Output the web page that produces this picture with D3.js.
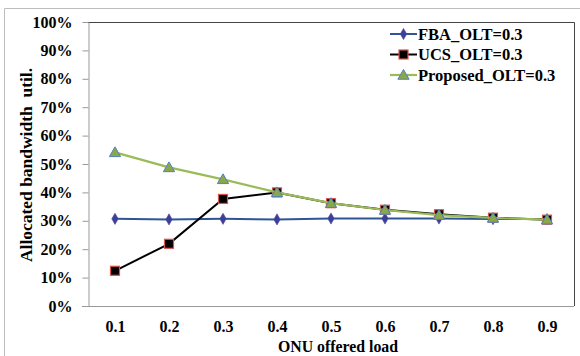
<!DOCTYPE html>
<html><head><meta charset="utf-8">
<script src="https://cdn.jsdelivr.net/npm/d3@7"></script>
<style>body{margin:0;background:#fff}svg{display:block}svg text{font-family:"Times New Roman","Liberation Serif",Tinos,"DejaVu Serif",serif !important;font-weight:bold}</style>
</head><body>
<svg id="c" width="580" height="356"></svg>
<script>
const categories = ["0.1","0.2","0.3","0.4","0.5","0.6","0.7","0.8","0.9"];
const yTicks = [0,0.1,0.2,0.3,0.4,0.5,0.6,0.7,0.8,0.9,1.0];
const fba = [0.307,0.305,0.307,0.305,0.308,0.308,0.308,0.306,0.306];
const ucs = [0.124,0.219,0.377,0.400,0.362,0.339,0.323,0.311,0.304];
const proposed = [0.541,0.488,0.446,0.400,0.362,0.338,0.320,0.310,0.304];
const seriesNames = ["FBA_OLT=0.3","UCS_OLT=0.3","Proposed_OLT=0.3"];

const FONT = "'Times New Roman','Liberation Serif',serif";
const svg = d3.select("#c");
const L=88,R=574,T=22,B=306;
svg.append("path").attr("d","M4.5,356 V8.5 H580").attr("fill","none").attr("stroke","#bdbdbd").attr("stroke-width",1);

const x = d3.scalePoint().domain(categories).range([L,R]).padding(0.5);
const y = d3.scaleLinear().domain([0,1]).range([B,T]);

svg.append("path").attr("d",`M${L},${T+0.5} H${R+0.5} V${B}`).attr("fill","none").attr("stroke","#444").attr("stroke-width",1);

const ya = svg.append("g").attr("transform",`translate(${L+0.5},0)`)
  .call(d3.axisLeft(y).tickValues(yTicks).tickFormat(d3.format(".0%")).tickSize(6).tickSizeOuter(0).tickPadding(10))
  .attr("font-family",FONT);
ya.select(".domain").attr("stroke","#999");
ya.selectAll(".tick line").attr("stroke","#999");
ya.selectAll("text").attr("font-size",16).attr("fill","#000");

const xa = svg.append("g").attr("transform",`translate(0,${B+0.5})`)
  .call(d3.axisBottom(x).tickSize(0).tickSizeOuter(0).tickPadding(14))
  .attr("font-family",FONT);
xa.select(".domain").attr("stroke","#999").attr("d",`M${L-6},0H${R}`);
xa.selectAll("text").attr("font-size",16).attr("fill","#000");

svg.append("text").attr("x",338).attr("y",352).attr("text-anchor","middle").attr("font-size",16)
  .attr("textLength",120).attr("lengthAdjust","spacingAndGlyphs").text("ONU offered load");
svg.append("text").attr("transform","translate(32,165) rotate(-90)").attr("text-anchor","middle").attr("font-size",16.5)
  .attr("xml:space","preserve").attr("textLength",194).attr("lengthAdjust","spacingAndGlyphs").text("Allocated bandwidth  util.");

const line = d3.line().x((d,i)=>x(categories[i])).y(d=>y(d));
const series = [
  {v:fba, color:"#2f5597", w:2, mk:"diamond", fill:"#3b3f9a", stroke:"#4a4aa0"},
  {v:ucs, color:"#000000", w:2, mk:"square", fill:"#000", stroke:"#d9534f"},
  {v:proposed, color:"#9bbb59", w:2.2, mk:"triangle", fill:"#8aa84a", stroke:"#4f81bd"}
];
function marker(g, s, cx, cy){
  if(s.mk==="diamond"){
    g.append("path").attr("d",d3.symbol(d3.symbolDiamond,36)()).attr("transform",`translate(${cx},${cy})`).attr("fill",s.fill).attr("stroke",s.stroke).attr("stroke-width",0.6);
  } else if(s.mk==="square"){
    g.append("rect").attr("x",cx-4.5).attr("y",cy-4.5).attr("width",9).attr("height",9).attr("fill",s.fill).attr("stroke",s.stroke).attr("stroke-width",1.2);
  } else {
    g.append("path").attr("d",d3.symbol(d3.symbolTriangle,55)()).attr("transform",`translate(${cx},${cy+1})`).attr("fill",s.fill).attr("stroke",s.stroke).attr("stroke-width",1);
  }
}
series.forEach(s=>{
  const g=svg.append("g");
  g.append("path").datum(s.v).attr("d",line).attr("fill","none").attr("stroke",s.color).attr("stroke-width",s.w);
  s.v.forEach((d,i)=>marker(g,s,x(categories[i]),y(d)));
});

const legendLens = [105, 104, 137];
const lg = svg.append("g");
series.forEach((s,i)=>{
  const cy = 34 + i*20.5;
  lg.append("line").attr("x1",390).attr("x2",417).attr("y1",cy).attr("y2",cy).attr("stroke",s.color).attr("stroke-width",s.w);
  marker(lg,s,403.5,cy);
  lg.append("text").attr("x",418).attr("y",cy+5.5).attr("font-size",16.5).text(seriesNames[i]);
});
</script>
</body></html>
